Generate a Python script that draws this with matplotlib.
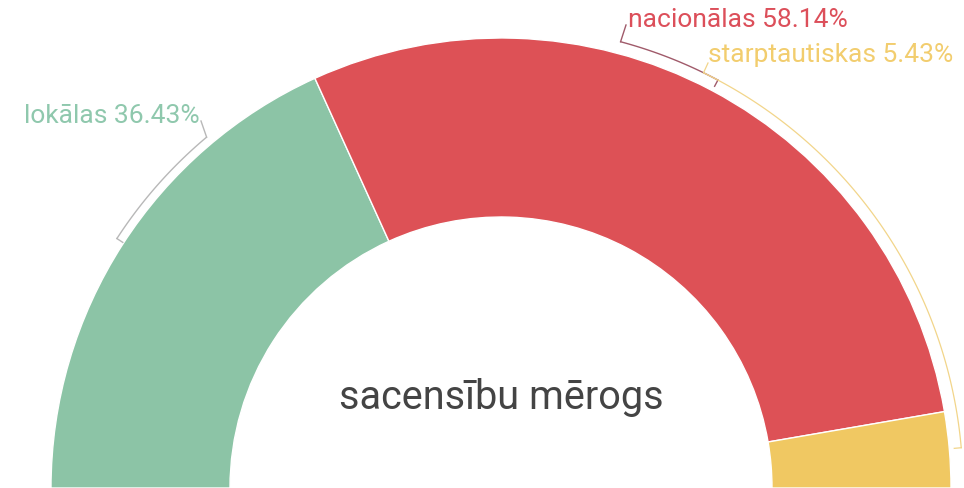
import numpy as np
import matplotlib.pyplot as plt

# dati
kategorijas = ['lokālas', 'nacionālas', 'starptautiskas']
procenti = [36.43, 58.14, 5.43]
krasas = ['#8cc4a6', '#dd5156', '#f0c862']
teksta_krasas = ['#8fc8ad', '#dc4f5a', '#f2cd6e']
virsraksts = 'sacensību mērogs'

plt.rcParams['font.family'] = ['Roboto', 'DejaVu Sans']

fig = plt.figure(figsize=(9.64, 4.89), dpi=100)
ax = fig.add_axes([0, 0, 1, 1])

cx, cy = 501, 0
R = 450
platums = 179

# pusdonuts: pēdējais (neredzamais) gabals aizņem apakšējo pusi
wedges, _ = ax.pie(procenti + [sum(procenti)], colors=krasas + ['none'],
                   startangle=180, counterclock=False, radius=R,
                   center=(cx, cy), frame=True,
                   wedgeprops=dict(width=platums, edgecolor='white', linewidth=1))
wedges[-1].set_edgecolor('none')


def arka(a0, a1, r, col, lw=1.0):
    t = np.radians(np.linspace(a0, a1, 100))
    ax.plot(cx + r * np.cos(t), cy + r * np.sin(t), color=col, lw=lw,
            solid_capstyle='round')


def punkts(a, r):
    t = np.radians(a)
    return cx + r * np.cos(t), cy + r * np.sin(t)


# lokālas
arka(130, 147, 458, '#b8b8b8', 1.0)
x0, y0 = punkts(147, 458)
x1, y1 = punkts(147, 451)
ax.plot([x0, x1], [y0, y1], color='#b8b8b8', lw=1.0)
x0, y0 = punkts(130, 458)
ax.plot([x0, 201], [y0, 489 - 122], color='#b8b8b8', lw=1.0)
ax.text(200, 489 - 116, f'{kategorijas[0]} {procenti[0]:.2f}%', color=teksta_krasas[0],
        fontsize=19, ha='right', va='center')

# nacionālas
arka(62, 75, 462, '#a05a6a', 1.0)
x0, y0 = punkts(62, 462)
x1, y1 = punkts(62, 455)
ax.plot([x0, x1], [y0, y1], color='#a05a6a', lw=1.0)
x0, y0 = punkts(75, 462)
ax.plot([x0, 626], [y0, 489 - 26], color='#a05a6a', lw=1.0)
ax.text(628, 489 - 20, f'{kategorijas[1]} {procenti[1]:.2f}%', color=teksta_krasas[1],
        fontsize=19, ha='left', va='center')

# starptautiskas
arka(5, 64, 462, '#f2d58a', 0.9)
x0, y0 = punkts(5, 462)
x1, y1 = punkts(5, 455)
ax.plot([x0, x1], [y0, y1], color='#f2d58a', lw=0.9)
x0, y0 = punkts(64, 462)
ax.plot([x0, 708], [y0, 489 - 64], color='#f2d58a', lw=0.9)
ax.text(708, 489 - 55, f'{kategorijas[2]} {procenti[2]:.2f}%', color=teksta_krasas[2],
        fontsize=19, ha='left', va='center')

ax.text(cx, 489 - 398, virsraksts, color='#444444', fontsize=28.5,
        ha='center', va='center')

ax.set_xlim(0, 964)
ax.set_ylim(0, 489)
ax.set_aspect('auto')
ax.axis('off')

fig.savefig('out.png', dpi=100, facecolor='white')
